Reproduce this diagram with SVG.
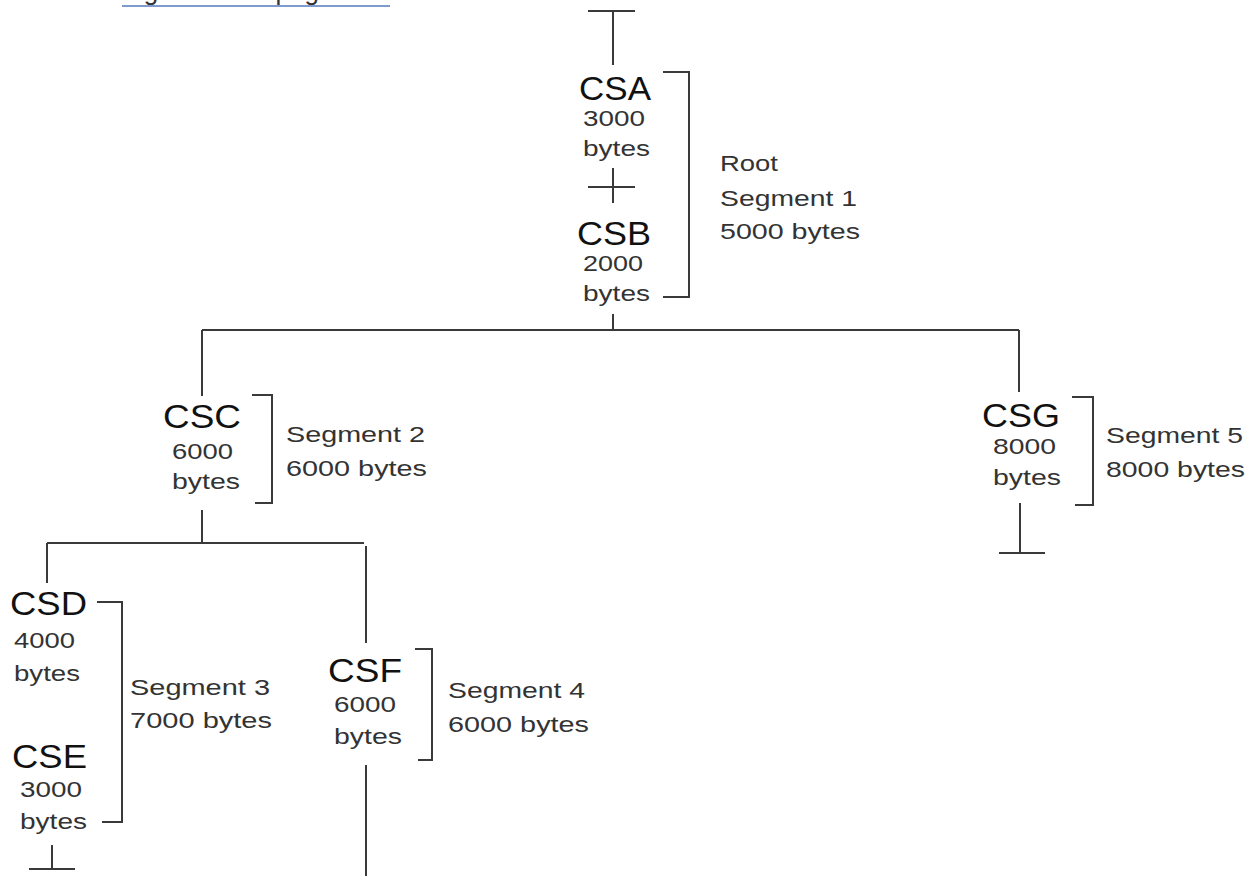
<svg xmlns="http://www.w3.org/2000/svg" width="1257" height="876" viewBox="0 0 1257 876">
<style>
.bg{fill:#fff}
.ln{stroke:#3a3a3a;stroke-width:2;fill:none}
.big{font-family:"Liberation Sans",Arial,sans-serif;font-size:34px;fill:#111}
.sm{font-family:"Liberation Sans",Arial,sans-serif;font-size:22px;fill:#333}
.lnk{font-family:"Liberation Sans",Arial,sans-serif;font-size:26px;fill:#333}
</style>
<rect class="bg" x="0" y="0" width="1257" height="876"/>
<g id="link">
<text class="lnk" x="122" y="0" textLength="262" lengthAdjust="spacing">Figure 13 on page 125</text>
<line x1="122" y1="6" x2="390" y2="6" stroke="#7f9acc" stroke-width="2"/>
</g>
<g id="connectors" class="ln">
<path d="M588 11H635M613 11V65"/>
<path d="M588 187H635M613 168V203"/>
<path d="M613 314V330"/>
<path d="M202 330H1019"/>
<path d="M202 330V396"/>
<path d="M1019 330V392"/>
<path d="M202 510V543"/>
<path d="M47 543H364"/>
<path d="M47 543V583"/>
<path d="M366 546V643"/>
<path d="M366 765V876"/>
<path d="M52 845V869M29 869H75"/>
<path d="M1020 503V553M999 553H1045"/>
</g>
<g id="CSA">
<text class="big" x="579" y="100" textLength="72" lengthAdjust="spacingAndGlyphs">CSA</text>
<text class="sm" x="583" y="126" textLength="62" lengthAdjust="spacingAndGlyphs">3000</text>
<text class="sm" x="583" y="156" textLength="67" lengthAdjust="spacingAndGlyphs">bytes</text>
</g>
<g id="CSB">
<text class="big" x="577" y="245" textLength="74" lengthAdjust="spacingAndGlyphs">CSB</text>
<text class="sm" x="583" y="271" textLength="60" lengthAdjust="spacingAndGlyphs">2000</text>
<text class="sm" x="583" y="301" textLength="67" lengthAdjust="spacingAndGlyphs">bytes</text>
</g>
<g id="segment1">
<path class="ln" d="M663 72H689V297H663"/>
<text class="sm" x="720" y="171" textLength="58" lengthAdjust="spacingAndGlyphs">Root</text>
<text class="sm" x="720" y="206" textLength="137" lengthAdjust="spacingAndGlyphs">Segment 1</text>
<text class="sm" x="720" y="239" textLength="140" lengthAdjust="spacingAndGlyphs">5000 bytes</text>
</g>
<g id="CSC">
<text class="big" x="163" y="428" textLength="78" lengthAdjust="spacingAndGlyphs">CSC</text>
<text class="sm" x="172" y="459" textLength="61" lengthAdjust="spacingAndGlyphs">6000</text>
<text class="sm" x="172" y="489" textLength="68" lengthAdjust="spacingAndGlyphs">bytes</text>
</g>
<g id="segment2">
<path class="ln" d="M252 395H272V503H255"/>
<text class="sm" x="286" y="442" textLength="139" lengthAdjust="spacingAndGlyphs">Segment 2</text>
<text class="sm" x="286" y="476" textLength="141" lengthAdjust="spacingAndGlyphs">6000 bytes</text>
</g>
<g id="CSG">
<text class="big" x="982" y="427" textLength="78" lengthAdjust="spacingAndGlyphs">CSG</text>
<text class="sm" x="993" y="454" textLength="63" lengthAdjust="spacingAndGlyphs">8000</text>
<text class="sm" x="993" y="485" textLength="68" lengthAdjust="spacingAndGlyphs">bytes</text>
</g>
<g id="segment5">
<path class="ln" d="M1072 397H1093V505H1075"/>
<text class="sm" x="1106" y="443" textLength="137" lengthAdjust="spacingAndGlyphs">Segment 5</text>
<text class="sm" x="1106" y="477" textLength="139" lengthAdjust="spacingAndGlyphs">8000 bytes</text>
</g>
<g id="CSD">
<text class="big" x="10" y="615" textLength="77" lengthAdjust="spacingAndGlyphs">CSD</text>
<text class="sm" x="14" y="648" textLength="61" lengthAdjust="spacingAndGlyphs">4000</text>
<text class="sm" x="14" y="681" textLength="66" lengthAdjust="spacingAndGlyphs">bytes</text>
</g>
<g id="CSE">
<text class="big" x="12" y="768" textLength="75" lengthAdjust="spacingAndGlyphs">CSE</text>
<text class="sm" x="20" y="797" textLength="62" lengthAdjust="spacingAndGlyphs">3000</text>
<text class="sm" x="20" y="829" textLength="67" lengthAdjust="spacingAndGlyphs">bytes</text>
</g>
<g id="segment3">
<path class="ln" d="M97 602H122V822H102"/>
<text class="sm" x="130" y="695" textLength="140" lengthAdjust="spacingAndGlyphs">Segment 3</text>
<text class="sm" x="130" y="728" textLength="142" lengthAdjust="spacingAndGlyphs">7000 bytes</text>
</g>
<g id="CSF">
<text class="big" x="328" y="682" textLength="74" lengthAdjust="spacingAndGlyphs">CSF</text>
<text class="sm" x="334" y="712" textLength="62" lengthAdjust="spacingAndGlyphs">6000</text>
<text class="sm" x="334" y="744" textLength="68" lengthAdjust="spacingAndGlyphs">bytes</text>
</g>
<g id="segment4">
<path class="ln" d="M415 649H432V760H418"/>
<text class="sm" x="448" y="698" textLength="137" lengthAdjust="spacingAndGlyphs">Segment 4</text>
<text class="sm" x="448" y="732" textLength="141" lengthAdjust="spacingAndGlyphs">6000 bytes</text>
</g>
</svg>
